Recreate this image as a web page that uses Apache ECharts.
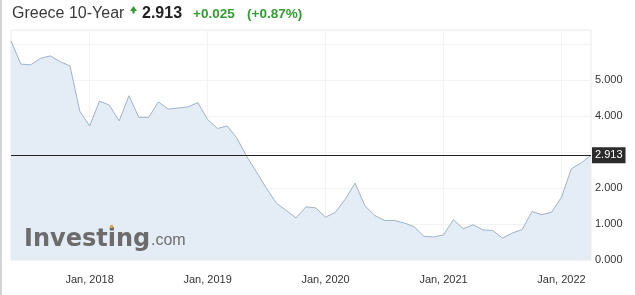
<!DOCTYPE html>
<html>
<head>
<meta charset="utf-8">
<script src="https://cdn.jsdelivr.net/npm/echarts@6/dist/echarts.min.js"></script>
<style>
html,body{margin:0;padding:0;background:#fff;}
#chart{width:635px;height:295px;}
</style>
</head>
<body>
<div id="chart"></div>
<script>
var months = [
 '2017-05','2017-06','2017-07','2017-08','2017-09','2017-10','2017-11','2017-12',
 '2018-01','2018-02','2018-03','2018-04','2018-05','2018-06','2018-07','2018-08','2018-09','2018-10','2018-11','2018-12',
 '2019-01','2019-02','2019-03','2019-04','2019-05','2019-06','2019-07','2019-08','2019-09','2019-10','2019-11','2019-12',
 '2020-01','2020-02','2020-03','2020-04','2020-05','2020-06','2020-07','2020-08','2020-09','2020-10','2020-11','2020-12',
 '2021-01','2021-02','2021-03','2021-04','2021-05','2021-06','2021-07','2021-08','2021-09','2021-10','2021-11','2021-12',
 '2022-01','2022-02','2022-03','2022-04'
];
var yields = [
 6.10,5.45,5.43,5.61,5.68,5.52,5.40,4.14,
 3.73,4.42,4.31,3.87,4.57,3.97,3.97,4.40,4.20,4.23,4.26,4.38,
 3.91,3.66,3.73,3.38,2.87,2.44,1.99,1.58,1.38,1.17,1.48,1.45,
 1.19,1.33,1.69,2.14,1.51,1.24,1.10,1.10,1.03,0.93,0.66,0.64,
 0.70,1.12,0.87,0.98,0.84,0.82,0.61,0.75,0.85,1.35,1.26,1.33,
 1.75,2.54,2.70,2.913
];
var yTickLabels = ['0.000','1.000','2.000','4.000','5.000'];
var lastValue = 2.913;
var titleName = 'Greece 10-Year';
var changeAbs = '+0.025';
var changePct = '(+0.87%)';

var green = '#2f9e2f';
function isJan(idx, val){ return String(val).slice(5) === '01'; }

var chart = echarts.init(document.getElementById('chart'), null, {renderer:'canvas'});
chart.setOption({
  animation:false,
  backgroundColor:'#fff',
  grid:{left:11,right:44,top:30,bottom:35,show:true,borderColor:'#ebebeb',borderWidth:1},
  xAxis:{
    type:'category',
    data:months,
    boundaryGap:false,
    axisLine:{show:false},
    axisTick:{show:false},
    axisLabel:{
      interval:isJan,
      margin:14,
      fontFamily:'Liberation Sans, Arial, sans-serif',
      fontSize:11,
      color:'#333',
      formatter:function(v){ return 'Jan, ' + v.slice(0,4); }
    },
    splitLine:{show:true,interval:isJan,lineStyle:{color:'#f3f3f3',width:1}}
  },
  yAxis:{
    type:'value',
    position:'right',
    min:0,max:6.4,interval:1,
    axisLine:{show:false},
    axisTick:{show:false},
    axisLabel:{
      margin:4,
      fontFamily:'Liberation Sans, Arial, sans-serif',
      fontSize:11,
      color:'#333',
      formatter:function(v){ var s=v.toFixed(3); return yTickLabels.indexOf(s)>=0 ? s : ''; }
    },
    splitLine:{show:true,lineStyle:{color:'#f3f3f3',width:1}}
  },
  series:[{
    type:'line',
    data:yields,
    symbol:'none',
    lineStyle:{color:'#9fb3c7',width:1},
    areaStyle:{color:'#e4edf6',opacity:1},
    markLine:{
      silent:true,
      symbol:'none',
      precision:3,
      data:[{yAxis:lastValue}],
      lineStyle:{color:'#222',width:1,type:'solid'},
      label:{
        show:true,position:'end',distance:1,
        formatter:function(p){ return Number(p.value).toFixed(3); },
        backgroundColor:'#2b2b2b',color:'#fff',
        fontFamily:'Liberation Sans, Arial, sans-serif',fontSize:11,
        padding:[3,3,2,3]
      }
    }
  }],
  graphic:[
    {type:'rect',left:0,top:0,shape:{width:2,height:295},style:{fill:'#d4d4d4'},z:100},
    {type:'text',x:12,y:14,style:{text:titleName,font:'16px "Liberation Sans", Arial, sans-serif',fill:'#3a3a3a',textVerticalAlign:'middle'},z:100},
    {type:'polygon',shape:{points:[[130,11],[133.5,6],[137,11],[134.6,11],[134.6,13.5],[132.4,13.5],[132.4,11]]},style:{fill:green},z:100},
    {type:'text',x:142,y:14,style:{text:String(lastValue),font:'bold 16px "Liberation Sans", Arial, sans-serif',fill:'#222',textVerticalAlign:'middle'},z:100},
    {type:'text',x:193,y:14.5,style:{text:changeAbs,font:'bold 13.5px "Liberation Sans", Arial, sans-serif',fill:green,textVerticalAlign:'middle'},z:100},
    {type:'text',x:247,y:14.5,style:{text:changePct,font:'bold 13.5px "Liberation Sans", Arial, sans-serif',fill:green,textVerticalAlign:'middle'},z:100},
    {type:'text',x:24,y:240,style:{text:'Investing',font:'bold 24px "DejaVu Sans", sans-serif',fill:'#6c6c6c',textVerticalAlign:'middle'},z:100},
    {type:'rect',shape:{x:110,y:225,width:3,height:3},style:{fill:'#e8a33d'},z:101},
    {type:'text',x:151,y:241,style:{text:'.com',font:'16px "Liberation Sans", Arial, sans-serif',fill:'#6c6c6c',textVerticalAlign:'middle'},z:100}
  ]
});
</script>
</body>
</html>
